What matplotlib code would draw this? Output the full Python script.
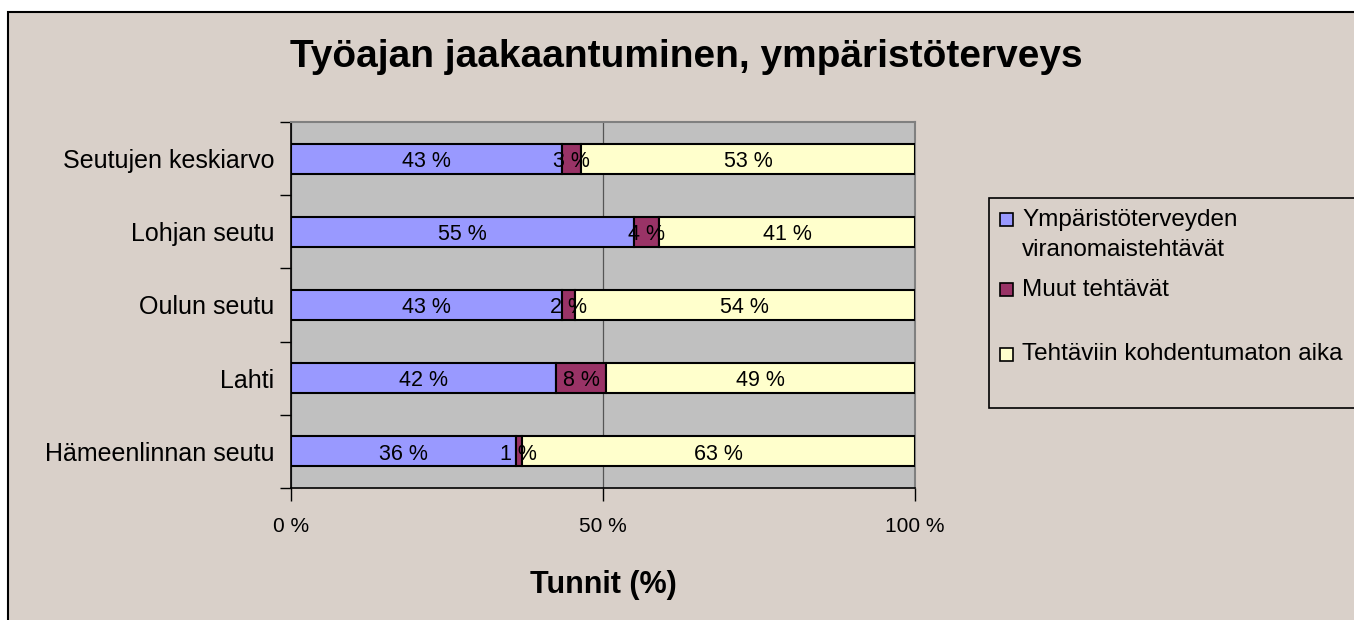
import matplotlib
matplotlib.use("Agg")
import matplotlib.pyplot as plt
from matplotlib.patches import Rectangle
import numpy as np

plt.rcParams['font.family'] = ['Liberation Sans', 'DejaVu Sans']

# ---- data ----
title = "Työajan jaakaantuminen, ympäristöterveys"
xlabel = "Tunnit (%)"
categories = ["Hämeenlinnan seutu", "Lahti", "Oulun seutu", "Lohjan seutu", "Seutujen keskiarvo"]
series_names = ["Ympäristöterveyden\nviranomaistehtävät", "Muut tehtävät", "Tehtäviin kohdentumaton aika"]
viranomais = [36, 42, 43, 55, 43]
muut = [1, 8, 2, 4, 3]
kohdentumaton = [63, 49, 54, 41, 53]
xticks = [0, 50, 100]
xticklabels = ["0 %", "50 %", "100 %"]
colors = ["#9999FF", "#993366", "#FFFFCC"]

W, H = 1354, 620
def fx(px): return px / W
def fy(py): return 1 - py / H

BG = "#D9D0C9"
fig = plt.figure(figsize=(W / 100, H / 100), dpi=100, facecolor="white")
fig.add_artist(Rectangle((fx(8), -0.1), 1.2, fy(12) + 0.1, transform=fig.transFigure,
                         facecolor=BG, edgecolor="black", linewidth=1.5, zorder=-10))

ax = fig.add_axes([fx(291), fy(488), fx(915) - fx(291), fy(122) - fy(488)])
ax.set_facecolor("#C0C0C0")

series = [np.array(viranomais, float), np.array(muut, float), np.array(kohdentumaton, float)]
totals = sum(series)
y = np.arange(len(categories))
left = np.zeros(len(categories))
for vals, col in zip(series, colors):
    pct = vals / totals * 100
    bars = ax.barh(y, pct, left=left, height=0.41, color=col, edgecolor="black",
                   linewidth=1.5, zorder=3)
    texts = ax.bar_label(bars, labels=[f"{int(v)} %" for v in vals], label_type="center",
                         fontsize=15.5, color="black", zorder=4)
    for t in texts:
        t.xyann = (0, -2)
    left += pct

ax.set_xlim(0, 100)
ax.set_ylim(-0.5, len(categories) - 0.5)
ax.set_xticks(xticks)
ax.set_xticklabels(xticklabels, fontsize=15)
ax.tick_params(axis="x", direction="out", length=9, width=1, pad=12)
ax.set_yticks(np.arange(-0.5, len(categories), 1.0))
ax.set_yticklabels([])
ax.set_yticks(y, minor=True)
ax.set_yticklabels(categories, minor=True, fontsize=18)
ax.tick_params(axis="y", which="major", direction="out", length=8, width=1)
ax.tick_params(axis="y", which="minor", length=0, pad=12)

ax.xaxis.grid(True, color="#555555", linewidth=0.9)
ax.set_axisbelow(True)
for s in ["left", "bottom"]:
    ax.spines[s].set_color("black")
    ax.spines[s].set_linewidth(1.2)
for s in ["top", "right"]:
    ax.spines[s].set_color("#808080")
    ax.spines[s].set_linewidth(1.5)

ax.set_xlabel(xlabel, fontsize=22, fontweight="bold", labelpad=24)
fig.text(fx(686), fy(57), title, fontsize=28, fontweight="bold", ha="center", va="center")

# ---- legend (drawn manually to match layout) ----
fig.add_artist(Rectangle((fx(989), fy(408)), 0.4, fy(198) - fy(408), transform=fig.transFigure,
                         facecolor=BG, edgecolor="black", linewidth=1.2, zorder=5))
text_y = [235, 290, 354]
square_y = [219, 289, 355]
sq = 13
for name, col, ty, sy in zip(series_names, colors, text_y, square_y):
    fig.add_artist(Rectangle((fx(1000), fy(sy + sq / 2)), sq / W, sq / H, transform=fig.transFigure,
                             facecolor=col, edgecolor="black", linewidth=1.2, zorder=6))
    fig.text(fx(1022), fy(ty), name, fontsize=17.5, ha="left", va="center", linespacing=1.5, zorder=6)

fig.savefig("out.png", dpi=100, facecolor=fig.get_facecolor())
